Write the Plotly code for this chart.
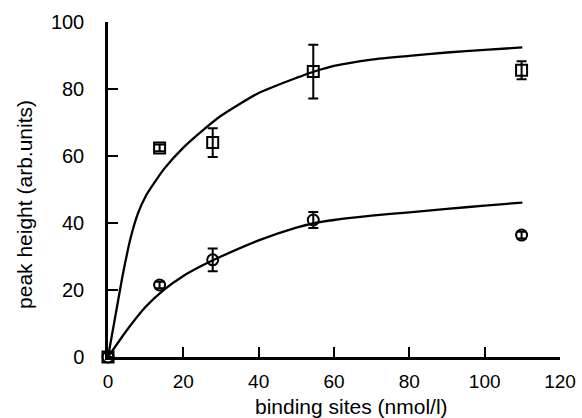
import plotly.graph_objects as go

# measured data
x_pts = [0, 13.7, 27.8, 54.5, 109.8]
sq_y = [0, 62.4, 64.0, 85.2, 85.6]
sq_err = [0, 1.0, 4.3, 8.0, 2.7]
ci_y = [0, 21.5, 29.0, 40.9, 36.4]
ci_err = [0, 1.0, 3.4, 2.4, 1.0]

# fitted curves
fit_up_x = [0, 2, 4, 6, 8, 10, 12, 15, 20, 25, 30, 40, 50, 55, 60, 70, 80, 90, 100, 110]
fit_up_y = [0, 12.5, 25, 35.5, 43, 48, 51.5, 56.3, 62.5, 67.5, 72, 78.8, 83.3, 85.3, 86.9,
            88.8, 89.9, 90.9, 91.7, 92.4]
fit_lo_x = [0, 5, 10, 15, 20, 25, 30, 40, 50, 55, 60, 70, 80, 90, 100, 110]
fit_lo_y = [0, 8, 15, 20.2, 24.2, 27.3, 30, 34.8, 38.6, 40, 40.9, 42.2, 43.2, 44.2, 45.2, 46.1]

x_ticks = [0, 20, 40, 60, 80, 100, 120]
y_ticks = [0, 20, 40, 60, 80, 100]
x_title = "binding sites (nmol/l)"
y_title = "peak height (arb.units)"

FONT = "Liberation Sans, Arial, sans-serif"

fig = go.Figure()
for fx, fy in ((fit_up_x, fit_up_y), (fit_lo_x, fit_lo_y)):
    fig.add_trace(go.Scatter(x=fx, y=fy, mode="lines",
                             line=dict(color="black", width=2.3, shape="spline", smoothing=0.6),
                             showlegend=False, hoverinfo="skip"))
fig.add_trace(go.Scatter(x=x_pts, y=sq_y, mode="markers",
                         marker=dict(symbol="square-open", size=11, color="black",
                                     line=dict(width=2, color="black")),
                         error_y=dict(type="data", array=sq_err, color="black", thickness=2, width=5),
                         cliponaxis=False, showlegend=False))
fig.add_trace(go.Scatter(x=x_pts, y=ci_y, mode="markers",
                         marker=dict(symbol="circle-open", size=11, color="black",
                                     line=dict(width=2, color="black")),
                         error_y=dict(type="data", array=ci_err, color="black", thickness=2, width=5),
                         cliponaxis=False, showlegend=False))

fig.update_layout(
    width=582, height=418,
    margin=dict(l=108, r=22, t=22, b=61),
    paper_bgcolor="white", plot_bgcolor="white",
    font=dict(family=FONT, size=20, color="black"),
    xaxis=dict(range=[0, 120], tickvals=x_ticks, ticktext=[str(v) for v in x_ticks],
               showline=True, linecolor="black", linewidth=2.5, automargin=False,
               ticks="inside", ticklen=10, tickwidth=2, tickcolor="black",
               tickfont=dict(size=19),
               showgrid=False, zeroline=False, ticklabelstandoff=5),
    yaxis=dict(range=[0, 100], tickvals=y_ticks, ticktext=[str(v) for v in y_ticks],
               showline=True, linecolor="black", linewidth=2.5, automargin=False,
               ticks="inside", ticklen=10, tickwidth=2, tickcolor="black",
               showgrid=False, zeroline=False, ticklabelstandoff=17),
    annotations=[
        dict(text=x_title, xref="paper", yref="paper", x=0.538, y=-0.185,
             xanchor="center", yanchor="bottom", showarrow=False, font=dict(size=21),
             borderpad=0),
        dict(text=y_title, xref="paper", yref="paper", x=-0.185, y=0.455, textangle=-90,
             xanchor="center", yanchor="middle", showarrow=False, font=dict(size=21)),
    ],
)

fig.write_html("out.html")
